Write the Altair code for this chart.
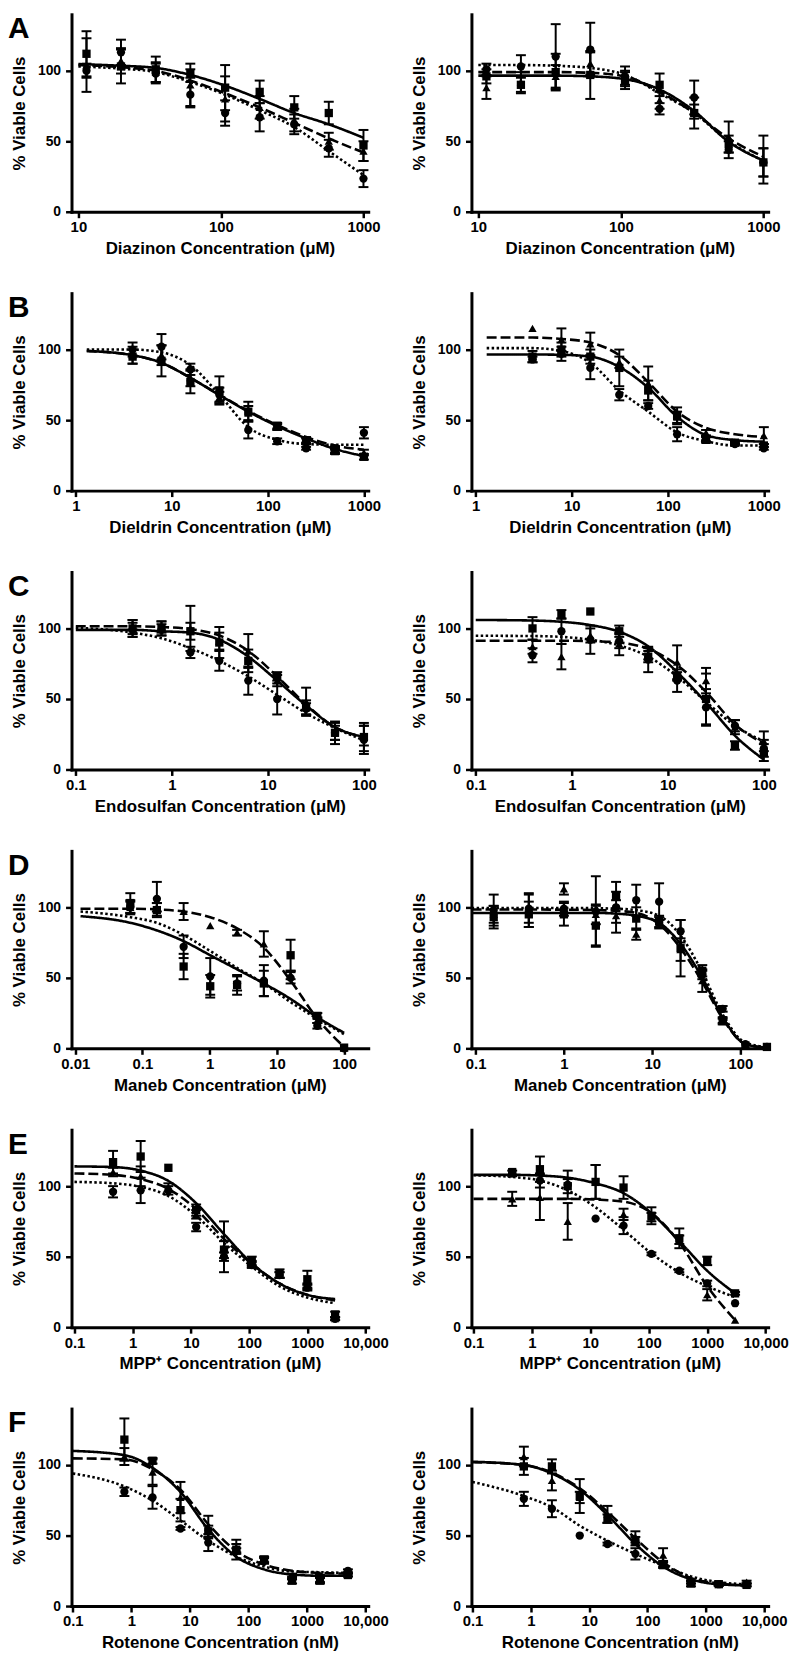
import altair as alt
import pandas as pd

FONT = "Liberation Sans"
SERIES = ["square", "triangle", "circle"]

# ---------------- A : Diazinon ----------------
A_conc = [11.4, 19.9, 34.9, 61, 107, 187, 327, 571, 1000]
A_fit_x = [10, 11.4, 19.9, 34.9, 61, 107, 187, 327, 571, 1000]
A_ticks = [10, 100, 1000]
A_domain = [8.95, 1080]

A1_sq = [112, 103, 101, 98, 88, 85, 74, 70, 47]
A1_sq_err = [16, 12, 9, 3, 16, 8, 8, 8, 11]
A1_tri = [104, 107, 99, 90, 80, 74, 65, 50, 43]
A1_tri_err = [19, 9, 7, 15, 16, 8, 8, 6, 7]
A1_cir = [100, 113, 98, 83, 70, 67, 62, 45, 23.5]
A1_cir_err = [5, 9, 7, 9, 9, 10, 7, 6, 6]
A1_fit_sq = [104.7, 104.5, 103.5, 102, 97, 89.4, 80, 70, 62, 52.5]
A1_fit_tri = [104, 103.8, 102.5, 100, 93, 84, 74, 63, 52, 42]
A1_fit_cir = [103, 102.8, 101.5, 99, 92, 83, 72, 60, 43, 26]

A2_sq = [96, 90, 99, 97, 93, 90, 70, 48, 35]
A2_sq_err = [5, 6, 13, 17, 6, 8, 11, 6, 10]
A2_tri = [88, 92, 96, 105, 95, 79, 71, 53, 37]
A2_tri_err = [8, 7, 8, 8, 5, 6, 5, 11, 17]
A2_cir = [101, 103, 110, 115, 96, 73, 81, 44, 35]
A2_cir_err = [4, 8, 23, 19, 7, 4, 12, 6, 10]
A2_fit_sq = [96.5, 96.5, 96.5, 96.5, 96, 94, 86.7, 71.4, 49.6, 36.3]
A2_fit_tri = [99, 99, 99, 99, 98.5, 96, 85, 70, 52, 39]
A2_fit_cir = [104, 104, 104, 103.5, 102, 97, 84, 70, 50, 36]

# ---------------- B : Dieldrin ----------------
B_conc = [3.9, 7.8, 15.6, 31.25, 62.5, 125, 250, 500, 1000]
B_fit_x = [1.3, 3.9, 7.8, 15.6, 31.25, 62.5, 125, 250, 500, 1000]
B_ticks = [1, 10, 100, 1000]
B_domain = [0.902, 1109]

B1_sq = [95, 92, 77, 71, 56, 46, 35, 28, 24]
B1_sq_err = [5, 11, 8, 10, 7, 2, 2, 2, 2]
B1_tri = [96, 96, 80, 66, 55, 45, 36, 29, 27]
B1_tri_err = [6, 7, 6, 4, 5, 2, 2, 2, 2]
B1_cir = [100, 102, 86, 68, 43, 35, 30, 30, 41]
B1_cir_err = [5, 9, 4, 5, 6, 2, 1, 1, 4]
B1_fit_sq = [99, 96, 90.6, 80, 67.7, 56, 45.8, 37, 29.5, 24.5]
B1_fit_tri = [99, 96, 90.6, 80, 68, 56.5, 46.5, 38, 32, 29]
B1_fit_cir = [100, 100, 98, 89, 68, 45, 36, 33, 32.5, 32.5]

B2_sq = [95, 100, 95, 87, 71, 53, 36, 34, 32]
B2_sq_err = [4, 5, 5, 13, 7, 6, 2, 1, 1]
B2_tri = [115, 107, 104, 91, 76, 52, 41, 34, 39]
B2_tri_err = [0, 8, 8, 4, 12, 4, 2, 1, 6]
B2_cir = [93, 97, 87, 68, 60, 40, 37, 33, 30]
B2_cir_err = [2, 5, 8, 4, 2, 5, 2, 1, 1]
B2_fit_sq = [96.5, 96.5, 96.3, 95, 87.7, 73, 52.4, 39.4, 35.8, 34.7]
B2_fit_tri = [108.5, 108.5, 107.5, 105, 96, 77, 56, 44.5, 40, 38]
B2_fit_cir = [101, 101, 99, 90.6, 71, 56, 41.3, 35, 32, 32]

# ---------------- C : Endosulfan ----------------
C_conc = [0.39, 0.78, 1.56, 3.12, 6.25, 12.5, 25, 50, 100]
C_fit_x = [0.1, 0.39, 0.78, 1.56, 3.12, 6.25, 12.5, 25, 50, 100]
C_ticks = [0.1, 1, 10, 100]
C_domain = [0.0902, 110.9]

C1_sq = [100, 100, 98, 90, 77, 66, 44, 26, 23]
C1_sq_err = [6, 5, 6, 11, 8, 3, 5, 5, 10]
C1_tri = [101, 101, 100, 91, 84, 63, 48, 27, 24]
C1_tri_err = [5, 4, 16, 6, 12, 4, 10, 6, 7]
C1_cir = [99, 99, 83, 77, 63, 50, 43, 26, 21]
C1_cir_err = [5, 4, 4, 7, 10, 11, 4, 8, 10]
C1_fit_sq = [99, 99, 98, 97, 92, 80, 63, 45.4, 30, 23]
C1_fit_tri = [101.5, 101.5, 101, 99.5, 95, 84, 66, 46, 30, 23]
C1_fit_cir = [100.5, 97, 93, 86, 77, 66, 53, 40, 29.4, 20.7]

C2_sq = [100, 110, 112, 98, 80, 66, 50, 17, 12]
C2_sq_err = [8, 3, 0, 4, 4, 3, 18, 3, 6]
C2_tri = [87, 80, 95, 89, 82, 76, 63, 30, 20]
C2_tri_err = [5, 9, 5, 8, 4, 12, 9, 5, 7]
C2_cir = [81, 98, 92, 91, 78, 63, 44, 31, 15]
C2_cir_err = [5, 9, 10, 5, 9, 8, 13, 4, 6]
C2_fit_sq = [106, 105.6, 104.7, 102.4, 97.6, 87.3, 69, 47.5, 24, 7]
C2_fit_tri = [91.3, 91.3, 91.3, 91, 90, 85.5, 74, 55, 32, 18.4]
C2_fit_cir = [94.8, 94.6, 94, 92, 88, 80, 66, 48, 31, 20]

# ---------------- D : Maneb ----------------
D1_conc = [0.066, 0.164, 0.41, 1.02, 2.56, 6.4, 16, 40, 100]
D1_fit_x = [0.012, 0.066, 0.164, 0.41, 1.02, 2.56, 6.4, 16, 40, 100]
D1_ticks = [0.01, 0.1, 1, 10, 100]
D1_domain = [0.00881, 228.6]

D1_sq = [103, 98, 58, 44, 45, 46, 66, 23, 0.5]
D1_sq_err = [7, 5, 9, 8, 7, 9, 11, 2, 0]
D1_tri = [100, 100, 97, 87, 82, 74, 52, 20, 0.5]
D1_tri_err = [4, 3, 6, 0, 2, 9, 3, 2, 0]
D1_cir = [100, 106, 72, 51, 46, 48, 50, 16, 0]
D1_cir_err = [5, 12, 8, 13, 5, 11, 4, 2, 0]
D1_fit_sq = [93.7, 89, 83.6, 76, 66, 56, 46, 35, 22, 11]
D1_fit_tri = [99, 99, 98.5, 97, 93, 85, 71.4, 48, 21, 1]
D1_fit_cir = [97, 93, 89, 80.3, 69, 57, 46, 32.8, 21, 10]

D2_conc = [0.16, 0.4, 1.0, 2.3, 3.9, 6.6, 12, 21, 37, 63, 114, 200]
D2_fit_x = [0.09, 0.16, 0.4, 1.0, 2.3, 3.9, 6.6, 12, 21, 37, 63, 114, 200]
D2_ticks = [0.1, 1, 10, 100]
D2_domain = [0.0895, 206.5]

D2_sq = [93, 95, 95, 87, 108, 92, 90, 71, 55, 20, 2, 1]
D2_sq_err = [8, 9, 8, 14, 3, 8, 4, 20, 4, 2, 0, 0]
D2_tri = [95, 98, 113, 95, 94, 81, 89, 70, 48, 19, 2, 1]
D2_tri_err = [6, 12, 4, 7, 5, 4, 4, 8, 8, 2, 0, 0]
D2_cir = [98, 99, 99, 97, 100, 105, 104, 83, 52, 28, 3, 1]
D2_cir_err = [11, 10, 5, 25, 18, 11, 13, 8, 3, 2, 0, 0]
D2_fit_sq = [96, 96, 96, 96, 96, 95.5, 94, 89, 74, 50, 22, 3, 0.5]
D2_fit_tri = [98.4, 98.4, 98.4, 98.3, 98, 97.5, 96, 88, 71, 47, 21, 3, 0.5]
D2_fit_cir = [99.5, 99.5, 99.5, 99.5, 99.3, 99, 98, 94, 80, 54, 24, 4, 1]

# ---------------- E : MPP+ ----------------
E_conc = [0.46, 1.37, 4.1, 12.3, 37, 111, 333, 1000, 3000]
E_fit_x = [0.1, 0.46, 1.37, 4.1, 12.3, 37, 111, 333, 1000, 3000]
E_ticks = [0.1, 1, 10, 100, 1000, 10000]
E1_domain = [0.0889, 11117]
E2_domain = [0.0923, 11040]

E1_sq = [117, 121, 113, 83, 55, 47, 38, 34, 9]
E1_sq_err = [8, 11, 0, 4, 6, 3, 3, 6, 2]
E1_tri = [110, 107, 99, 80, 57, 45, 37, 29, 6]
E1_tri_err = [3, 7, 3, 3, 18, 2, 2, 2, 1]
E1_cir = [96, 97, 97, 71, 50, 44, 37, 28, 6]
E1_cir_err = [4, 9, 3, 3, 3, 2, 2, 2, 1]
E1_fit_sq = [114, 113.5, 111, 103.7, 87.9, 66, 45.3, 31, 22.9, 20]
E1_fit_tri = [109, 108, 105, 98, 83.6, 62.6, 45, 31, 23, 19]
E1_fit_cir = [103, 102, 99.5, 93, 79, 59.8, 43, 29, 21, 17]

E2_sq = [110, 112, 100, 103, 99, 79, 63, 47, 24]
E2_sq_err = [0, 9, 5, 12, 8, 6, 7, 3, 1]
E2_tri = [91, 92, 75, 103, 80, 78, 62, 23, 5]
E2_tri_err = [5, 16, 13, 12, 4, 3, 3, 4, 0]
E2_cir = [109, 104, 101, 77, 72, 52, 40, 31, 17]
E2_cir_err = [2, 5, 10, 0, 6, 1, 1, 2, 0]
E2_fit_sq = [108, 108, 107.5, 106, 102, 95, 80.8, 61, 40, 24]
E2_fit_tri = [91, 91, 91, 91, 90.5, 89, 81, 60, 29, 5]
E2_fit_cir = [107.7, 106.5, 104, 97, 85, 69, 52.3, 38.8, 29, 21.3]

# ---------------- F : Rotenone ----------------
F_conc = [0.76, 2.3, 6.9, 20.6, 62, 185, 556, 1667, 5000]
F_fit_x = [0.1, 0.76, 2.3, 6.9, 20.6, 62, 185, 556, 1667, 5000]
F_ticks = [0.1, 1, 10, 100, 1000, 10000]
F1_domain = [0.095, 11117]
F2_domain = [0.096, 11700]

F1_sq = [118, 103, 68, 53, 40, 33, 18, 18, 22]
F1_sq_err = [15, 2, 8, 4, 7, 2, 2, 2, 1]
F1_tri = [106, 95, 77, 56, 41, 33, 21, 19, 22]
F1_tri_err = [6, 9, 11, 8, 3, 2, 2, 2, 1]
F1_cir = [81, 77, 55, 45, 39, 32, 20, 21, 25]
F1_cir_err = [3, 8, 1, 6, 2, 2, 1, 1, 1]
F1_fit_sq = [110, 107, 98, 80.8, 54.4, 35, 26, 22.4, 21.5, 21.5]
F1_fit_tri = [104.7, 104, 97, 82.5, 58, 39, 29.4, 25, 23.5, 23]
F1_fit_cir = [94, 84.8, 74.8, 60.7, 46.3, 35, 28, 24.5, 24, 23.5]

F2_sq = [99, 99, 78, 62, 46, 29, 16, 15.5, 15]
F2_sq_err = [6, 5, 12, 3, 3, 2, 2, 1, 1]
F2_tri = [106, 89, 77, 65, 49, 36, 17, 15.5, 17]
F2_tri_err = [7, 7, 4, 6, 4, 5, 1, 1, 1]
F2_cir = [76, 69, 50, 44, 37, 30, 17, 15.5, 15]
F2_cir_err = [5, 6, 0, 1, 4, 2, 1, 1, 1]
F2_fit_sq = [102.3, 100, 94, 82.5, 64.5, 44, 28, 19, 15.4, 14.7]
F2_fit_tri = [102, 100, 94.5, 83.5, 66.8, 48, 31, 20, 16, 14.5]
F2_fit_cir = [88, 78, 70, 57, 46.3, 37, 28.7, 21, 17, 15.4]

Y_TICKS = [0, 50, 100]
Y_DOMAIN = [0, 140]

PLOT_W = 299
PLOT_H = 199

TITLE_SIZE = 17

AXIS_STYLE = dict(
    domainColor="black", domainWidth=3, domainCap="square",
    tickColor="black", tickWidth=2.5, tickSize=6,
    labelFont=FONT, labelFontWeight="bold", labelColor="black",
    titleFont=FONT, titleFontSize=TITLE_SIZE, titleFontWeight="bold", titleColor="black",
    grid=False, labelOverlap=False,
)


def panel(conc, means, errs, fit_x, fits, domain, ticks, xtitle, label=None):
    rows = []
    for s, m, e in zip(SERIES, means, errs):
        for c, v, d in zip(conc, m, e):
            rows.append({"conc": c, "val": v, "lo": v - d, "hi": v + d, "err": d, "series": s})
    pts = pd.DataFrame(rows)
    frows = []
    for s, f in zip(SERIES, fits):
        for c, v in zip(fit_x, f):
            frows.append({"conc": c, "val": v, "series": s})
    fit = pd.DataFrame(frows)

    xs = alt.Scale(type="log", domain=domain, nice=False)
    ys = alt.Scale(domain=Y_DOMAIN, nice=False)
    xax = alt.Axis(
        values=ticks, format="~g", title=xtitle, labelFlush=False, titlePadding=6,
        labelFontSize=15, labelPadding=2,
        labelExpr="datum.value >= 10000 ? format(datum.value, ',') : format(datum.value, '~g')",
        **AXIS_STYLE,
    )
    yax = alt.Axis(values=Y_TICKS, title="% Viable Cells", titlePadding=9,
                   labelFontSize=14, labelPadding=5, **AXIS_STYLE)

    def X():
        return alt.X("conc:Q", scale=xs, axis=xax)

    def Y(f):
        return alt.Y(f + ":Q", scale=ys, axis=yax)

    lines = alt.Chart(fit).mark_line(
        interpolate="monotone", strokeWidth=2.6, color="black", clip=True
    ).encode(
        x=X(), y=Y("val"),
        strokeDash=alt.StrokeDash(
            "series:N",
            scale=alt.Scale(domain=SERIES, range=[[1, 0], [10, 4], [2.5, 2.5]]),
            legend=None,
        ),
        detail="series:N",
    )
    rules = alt.Chart(pts).mark_rule(strokeWidth=2, color="black").encode(
        x=X(), y=Y("lo"), y2="hi:Q"
    ).transform_filter("datum.err > 0")
    cap_lo = alt.Chart(pts).mark_point(
        shape="M-1,0L1,0", size=100, strokeWidth=2, color="black", filled=False, opacity=1
    ).encode(x=X(), y=Y("lo")).transform_filter("datum.err > 0")
    cap_hi = alt.Chart(pts).mark_point(
        shape="M-1,0L1,0", size=100, strokeWidth=2, color="black", filled=False, opacity=1
    ).encode(x=X(), y=Y("hi")).transform_filter("datum.err > 0")
    points = alt.Chart(pts).mark_point(filled=True, size=70, opacity=1, color="black").encode(
        x=X(), y=Y("val"),
        shape=alt.Shape(
            "series:N",
            scale=alt.Scale(domain=SERIES, range=["square", "triangle-up", "circle"]),
            legend=None,
        ),
    )
    layers = [lines, rules, cap_lo, cap_hi, points]
    if label:
        lab = alt.Chart(pd.DataFrame({"t": [label]})).mark_text(
            align="left", baseline="alphabetic", fontSize=30, fontWeight="bold",
            font=FONT, color="black"
        ).encode(x=alt.value(-64), y=alt.value(24), text="t:N")
        layers.append(lab)
    return alt.layer(*layers).properties(width=PLOT_W, height=PLOT_H)


MU = "\u03bcM"
panels = [
    panel(A_conc, [A1_sq, A1_tri, A1_cir], [A1_sq_err, A1_tri_err, A1_cir_err], A_fit_x,
          [A1_fit_sq, A1_fit_tri, A1_fit_cir], A_domain, A_ticks, f"Diazinon Concentration ({MU})", "A"),
    panel(A_conc, [A2_sq, A2_tri, A2_cir], [A2_sq_err, A2_tri_err, A2_cir_err], A_fit_x,
          [A2_fit_sq, A2_fit_tri, A2_fit_cir], A_domain, A_ticks, f"Diazinon Concentration ({MU})"),
    panel(B_conc, [B1_sq, B1_tri, B1_cir], [B1_sq_err, B1_tri_err, B1_cir_err], B_fit_x,
          [B1_fit_sq, B1_fit_tri, B1_fit_cir], B_domain, B_ticks, f"Dieldrin Concentration ({MU})", "B"),
    panel(B_conc, [B2_sq, B2_tri, B2_cir], [B2_sq_err, B2_tri_err, B2_cir_err], B_fit_x,
          [B2_fit_sq, B2_fit_tri, B2_fit_cir], B_domain, B_ticks, f"Dieldrin Concentration ({MU})"),
    panel(C_conc, [C1_sq, C1_tri, C1_cir], [C1_sq_err, C1_tri_err, C1_cir_err], C_fit_x,
          [C1_fit_sq, C1_fit_tri, C1_fit_cir], C_domain, C_ticks, f"Endosulfan Concentration ({MU})", "C"),
    panel(C_conc, [C2_sq, C2_tri, C2_cir], [C2_sq_err, C2_tri_err, C2_cir_err], C_fit_x,
          [C2_fit_sq, C2_fit_tri, C2_fit_cir], C_domain, C_ticks, f"Endosulfan Concentration ({MU})"),
    panel(D1_conc, [D1_sq, D1_tri, D1_cir], [D1_sq_err, D1_tri_err, D1_cir_err], D1_fit_x,
          [D1_fit_sq, D1_fit_tri, D1_fit_cir], D1_domain, D1_ticks, f"Maneb Concentration ({MU})", "D"),
    panel(D2_conc, [D2_sq, D2_tri, D2_cir], [D2_sq_err, D2_tri_err, D2_cir_err], D2_fit_x,
          [D2_fit_sq, D2_fit_tri, D2_fit_cir], D2_domain, D2_ticks, f"Maneb Concentration ({MU})"),
    panel(E_conc, [E1_sq, E1_tri, E1_cir], [E1_sq_err, E1_tri_err, E1_cir_err], E_fit_x,
          [E1_fit_sq, E1_fit_tri, E1_fit_cir], E1_domain, E_ticks, f"MPP\u207a Concentration ({MU})", "E"),
    panel(E_conc, [E2_sq, E2_tri, E2_cir], [E2_sq_err, E2_tri_err, E2_cir_err], E_fit_x,
          [E2_fit_sq, E2_fit_tri, E2_fit_cir], E2_domain, E_ticks, f"MPP\u207a Concentration ({MU})"),
    panel(F_conc, [F1_sq, F1_tri, F1_cir], [F1_sq_err, F1_tri_err, F1_cir_err], F_fit_x,
          [F1_fit_sq, F1_fit_tri, F1_fit_cir], F1_domain, F_ticks, "Rotenone Concentration (nM)", "F"),
    panel(F_conc, [F2_sq, F2_tri, F2_cir], [F2_sq_err, F2_tri_err, F2_cir_err], F_fit_x,
          [F2_fit_sq, F2_fit_tri, F2_fit_cir], F2_domain, F_ticks, "Rotenone Concentration (nM)"),
]

chart = alt.ConcatChart(
    concat=panels, columns=2, spacing={"row": 82, "column": 104}, bounds="flush"
).properties(
    padding=0, background="white"
).configure_view(
    stroke=None,
)

chart.save("out.html", embed_options={"renderer": "svg", "actions": False})
